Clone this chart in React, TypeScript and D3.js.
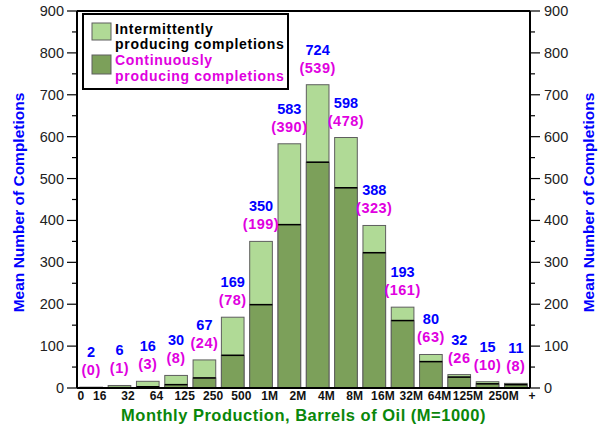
import React from "react";
import * as d3 from "d3";

const categories = ["0-16", "16-32", "32-64", "64-125", "125-250", "250-500", "500-1M", "1M-2M", "2M-4M", "4M-8M", "8M-16M", "16M-32M", "32M-64M", "64M-125M", "125M-250M", "250M+"];
const boundaryLabels = ["0", "16", "32", "64", "125", "250", "500", "1M", "2M", "4M", "8M", "16M", "32M", "64M", "125M", "250M", "+"];
const totalValues = [2, 6, 16, 30, 67, 169, 350, 583, 724, 598, 388, 193, 80, 32, 15, 11];
const continuousValues = [0, 1, 3, 8, 24, 78, 199, 390, 539, 478, 323, 161, 63, 26, 10, 8];
const continuousLabels = ["(0)", "(1)", "(3)", "(8)", "(24)", "(78)", "(199)", "(390)", "(539)", "(478)", "(323)", "(161)", "(63)", "(26", "(10)", "(8)"];
const yTicks = [0, 100, 200, 300, 400, 500, 600, 700, 800, 900];
const yMinorTicks = [50, 150, 250, 350, 450, 550, 650, 750, 850];

const W = 599, H = 427;
const left = 77, right = 530, top = 11, bottom = 388;
const LIGHT = "#b0da96";
const DARK = "#7ca05a";
const BLUE = "#0000ff";
const MAGENTA = "#e000e0";
const GREEN = "#0a870a";
const FONT = "Arial, 'Liberation Sans', Helvetica, sans-serif";

export default function App() {
  const x = d3.scaleBand<number>().domain(categories.map((_, i) => i)).range([left, right]).paddingInner(0.2).paddingOuter(0.1);
  const y = d3.scaleLinear().domain([0, 900]).range([bottom, top]);
  const step = x.step();
  const bw = x.bandwidth();
  const boundary = (k: number) => left + k * step;
  const labelX = (k: number) => (k === 0 ? boundary(0) + 4 : k >= 15 ? boundary(k) + 2 : boundary(k) - 5.5);

  return (
    <svg width={W} height={H} style={{ position: "absolute", left: 0, top: 0, background: "#fff" }} fontFamily={FONT}>
      <rect x={0} y={0} width={W} height={H} fill="#fff" />
      {/* bars */}
      {categories.map((c, i) => {
        const x0 = x(i)!;
        const yt = y(totalValues[i]);
        const yc = y(continuousValues[i]);
        return (
          <g key={c}>
            <rect x={x0} y={yt} width={bw} height={bottom - yt} fill={LIGHT} stroke="#5e5e5e" strokeWidth={1} />
            <rect x={x0} y={yc} width={bw} height={bottom - yc} fill={DARK} stroke="#5e5e5e" strokeWidth={1} />
            <line x1={x0} x2={x0 + bw} y1={yc} y2={yc} stroke="#000" strokeWidth={1.5} />
          </g>
        );
      })}
      {/* value labels */}
      {categories.map((c, i) => {
        const cx = x(i)! + bw / 2;
        const cy = y(totalValues[i]) - 35;
        return (
          <g key={"l" + c} fontWeight="bold" fontSize={14.5} textAnchor="middle">
            <text x={cx} y={cy + 5} fill={BLUE}>{totalValues[i]}</text>
            <text x={cx} y={cy + 23} fill={MAGENTA} letterSpacing={0.5}>{continuousLabels[i]}</text>
          </g>
        );
      })}
      {/* frame */}
      <line x1={left} x2={right} y1={top} y2={top} stroke="#000" strokeWidth={2} />
      <line x1={left} x2={right} y1={bottom} y2={bottom} stroke="#000" strokeWidth={2} />
      <line x1={left} x2={left} y1={top} y2={bottom} stroke="#000" strokeWidth={2} />
      <line x1={right} x2={right} y1={top} y2={bottom} stroke="#000" strokeWidth={2} />
      {/* y ticks */}
      {yTicks.map((t) => (
        <g key={"t" + t}>
          <line x1={left - 10} x2={left} y1={y(t)} y2={y(t)} stroke="#000" strokeWidth={1.2} />
          <line x1={right} x2={right + 10} y1={y(t)} y2={y(t)} stroke="#000" strokeWidth={1.2} />
          <text x={left - 13} y={y(t) + 5} textAnchor="end" fontSize={14.5} fill="#222">{t}</text>
          <text x={right + 14} y={y(t) + 5} textAnchor="start" fontSize={14.5} fill="#222">{t}</text>
        </g>
      ))}
      {yMinorTicks.map((t) => (
        <g key={"m" + t}>
          <line x1={left - 5} x2={left} y1={y(t)} y2={y(t)} stroke="#000" strokeWidth={1.2} />
          <line x1={right} x2={right + 5} y1={y(t)} y2={y(t)} stroke="#000" strokeWidth={1.2} />
        </g>
      ))}
      {/* x boundary labels */}
      {boundaryLabels.map((l, k) => (
        <text key={"x" + k} x={labelX(k)} y={400} textAnchor="middle" fontSize={12} fontWeight="bold" letterSpacing={0.1} fill="#111">{l}</text>
      ))}
      {/* axis titles */}
      <text x={(left + right) / 2} y={421} textAnchor="middle" fontSize={16.5} fontWeight="bold" letterSpacing={0.5} fill={GREEN}>Monthly Production, Barrels of Oil (M=1000)</text>
      <text transform={`translate(24,${(top + bottom) / 2 + 3}) rotate(-90)`} textAnchor="middle" fontSize={15.5} fontWeight="bold" fill={BLUE}>Mean Number of Completions</text>
      <text transform={`translate(594,${(top + bottom) / 2 + 3}) rotate(-90)`} textAnchor="middle" fontSize={15.5} fontWeight="bold" fill={BLUE}>Mean Number of Completions</text>
      {/* legend */}
      <g fontSize={14} fontWeight="bold" letterSpacing={0.7}>
        <rect x={83} y={14} width={205} height={75} fill="#fff" stroke="#000" strokeWidth={2} />
        <rect x={92} y={23} width={19} height={17} fill={LIGHT} stroke="#5e5e5e" strokeWidth={1} />
        <rect x={92} y={55} width={19} height={19} fill={DARK} stroke="#5e5e5e" strokeWidth={1} />
        <text x={115} y={33.5} fill="#000">Intermittently</text>
        <text x={115} y={48.5} fill="#000">producing completions</text>
        <text x={115} y={65} fill={MAGENTA}>Continuously</text>
        <text x={115} y={81} fill={MAGENTA}>producing completions</text>
      </g>
    </svg>
  );
}
